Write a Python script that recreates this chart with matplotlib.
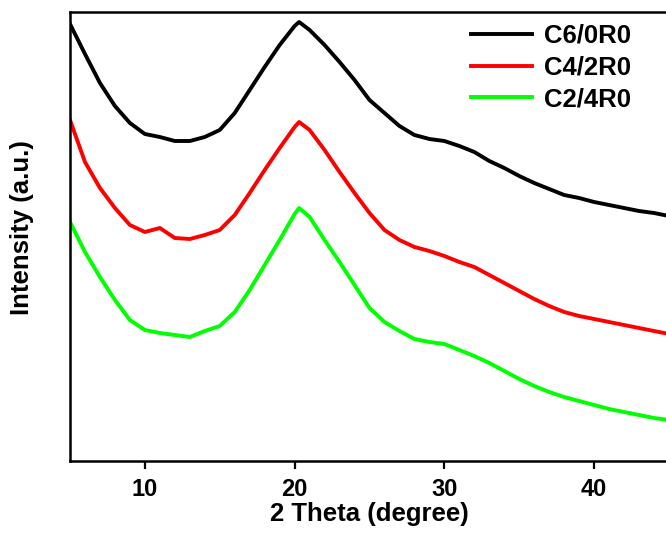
import numpy as np
import matplotlib
matplotlib.use('Agg')
import matplotlib.pyplot as plt

# 2-theta positions (degree)
two_theta = [5, 6, 7, 8, 9, 10, 11, 12, 13, 14, 15, 16, 17, 18, 19, 20, 20.3,
             21, 22, 23, 24, 25, 26, 27, 28, 29, 30, 31, 32, 33, 34, 35, 36,
             37, 38, 39, 40, 41, 42, 43, 44, 45]

# intensities (a.u.), curves already offset vertically
c6_0r0 = [437, 407, 378, 355, 338, 327, 324, 320, 320, 324, 331, 348, 371,
          394, 416, 435, 439, 431, 416, 399, 381, 361, 348, 335, 326, 322,
          320, 315, 309, 300, 293, 285, 278, 272, 266, 263, 259, 256, 253,
          250, 248, 245]
c4_2r0 = [341, 299, 273, 253, 236, 229, 233, 223, 222, 226, 231, 246, 268,
          291, 313, 334, 339, 331, 311, 289, 268, 248, 231, 221, 214, 210,
          205, 199, 194, 186, 178, 170, 162, 155, 149, 145, 142, 139, 136,
          133, 130, 127]
c2_4r0 = [239, 209, 184, 161, 141, 131, 128, 126, 124, 130, 135, 149, 171,
          196, 221, 247, 253, 244, 221, 199, 176, 153, 139, 130, 122, 119,
          117, 111, 105, 98, 90, 82, 75, 69, 64, 60, 56, 52, 49, 46, 43, 41]

labels = ['C6/0R0', 'C4/2R0', 'C2/4R0']
colors = ['#000000', '#ff0000', '#00ff00']

plt.rcParams['font.family'] = ['Liberation Sans', 'DejaVu Sans']
plt.rcParams['font.weight'] = 'bold'

fig = plt.figure(figsize=(6.66, 5.34), dpi=100)
ax = fig.add_axes([70 / 666, 73 / 534, 599 / 666, 449 / 534])

for series, label, color in zip([c6_0r0, c4_2r0, c2_4r0], labels, colors):
    ax.plot(two_theta, series, color=color, linewidth=2.8, label=label,
            solid_joinstyle='round')

ax.set_xlim(5, 45)
ax.set_ylim(0, 449)
ax.set_xticks([10, 20, 30, 40])
ax.set_yticks([])
ax.tick_params(axis='x', direction='out', length=6, width=1.6,
               labelsize=17, pad=6)
for side in ['left', 'bottom', 'top', 'right']:
    ax.spines[side].set_linewidth(1.8)

ax.set_xlabel('2 Theta (degree)', fontsize=18.5, fontweight='bold', labelpad=1)
ax.set_ylabel('Intensity (a.u.)', fontsize=18.5, fontweight='bold')
ax.yaxis.set_label_coords(-0.06, 0.52)

leg = ax.legend(loc='upper right', bbox_to_anchor=(0.975, 1.025), frameon=False,
                fontsize=18.5, handlelength=2.4, handletextpad=0.45,
                labelspacing=0.3)
for line in leg.get_lines():
    line.set_linewidth(2.8)

fig.savefig('out.png', dpi=100)
